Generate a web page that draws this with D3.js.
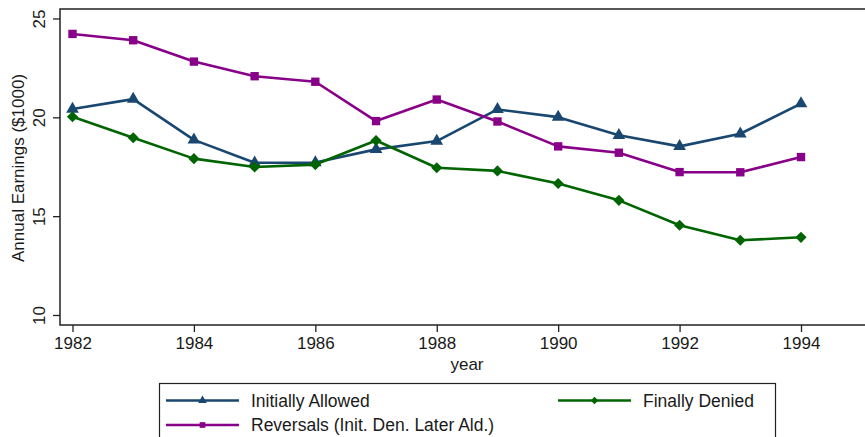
<!DOCTYPE html>
<html>
<head>
<meta charset="utf-8">
<script src="https://cdn.jsdelivr.net/npm/d3@7"></script>
<style>
  html, body { margin: 0; padding: 0; background: #fff; }
  svg { display: block; }
  text { font-family: "Liberation Sans", Arial, Helvetica, sans-serif; fill: #1a1a1a; }
</style>
</head>
<body>
<svg id="chart" width="865" height="437"></svg>
<script>
// Annual earnings by claim outcome, 1982–1994 (thousands of dollars)
const years = [1982, 1983, 1984, 1985, 1986, 1987, 1988, 1989, 1990, 1991, 1992, 1993, 1994];
const initiallyAllowed = [20.42, 20.92, 18.86, 17.70, 17.71, 18.38, 18.80, 20.40, 20.01, 19.09, 18.53, 19.17, 20.69];
const finallyDenied    = [20.03, 18.97, 17.91, 17.49, 17.61, 18.83, 17.45, 17.29, 16.65, 15.80, 14.54, 13.78, 13.93];
const reversals        = [24.22, 23.90, 22.82, 22.08, 21.80, 19.81, 20.90, 19.79, 18.53, 18.21, 17.23, 17.22, 17.99];
const yTicks = [10, 15, 20, 25];
const xTicks = [1982, 1984, 1986, 1988, 1990, 1992, 1994];

// Diamond markers are squares turned 45 degrees
const series = [
  { name: "Initially Allowed", values: initiallyAllowed, color: "#1a476f", marker: d3.symbolTriangle, size: 70, legendSize: 32, rot: 0 },
  { name: "Finally Denied", values: finallyDenied, color: "#006400", marker: d3.symbolSquare, size: 62, legendSize: 28, rot: 45 },
  { name: "Reversals (Init. Den. Later Ald.)", values: reversals, color: "#880088", marker: d3.symbolSquare, size: 70, legendSize: 32, rot: 0 }
];

const svg = d3.select("#chart");
const plot = { left: 60, top: 9, right: 870, bottom: 325 };

const x = d3.scaleLinear().domain([1982, 1994]).range([72.5, 801]);
const y = d3.scaleLinear().domain([10, 25]).range([315, 18.5]);

const axisColor = "#222";

// Y axis with rotated tick labels
const yAxis = svg.append("g")
  .attr("transform", `translate(${plot.left},0)`)
  .call(d3.axisLeft(y).tickValues(yTicks).tickSize(7).tickPadding(0).tickFormat(d3.format("d")));
yAxis.select(".domain").remove();
yAxis.selectAll(".tick line").attr("stroke", axisColor).attr("stroke-width", 1.3);
yAxis.selectAll(".tick text")
  .attr("font-size", 17)
  .attr("text-anchor", "middle")
  .attr("x", null).attr("dy", null)
  .attr("transform", "translate(-21,0) rotate(-90)")
  .attr("dominant-baseline", "central");

// X axis
const xAxis = svg.append("g")
  .attr("transform", `translate(0,${plot.bottom})`)
  .call(d3.axisBottom(x).tickValues(xTicks).tickSize(7).tickPadding(5).tickFormat(d3.format("d")));
xAxis.select(".domain").remove();
xAxis.selectAll(".tick line").attr("stroke", axisColor).attr("stroke-width", 1.3);
xAxis.selectAll(".tick text").attr("font-size", 17);

// Plot frame: left, top and bottom edges
svg.append("path")
  .attr("d", `M${plot.right},${plot.top}H${plot.left}V${plot.bottom}H${plot.right}`)
  .attr("fill", "none")
  .attr("stroke", axisColor)
  .attr("stroke-width", 1.5);

// Axis titles
svg.append("text")
  .attr("x", 467).attr("y", 370)
  .attr("text-anchor", "middle")
  .attr("font-size", 17)
  .text("year");

svg.append("text")
  .attr("transform", "translate(18,168) rotate(-90)")
  .attr("text-anchor", "middle")
  .attr("dominant-baseline", "central")
  .attr("font-size", 17)
  .text("Annual Earnings ($1000)");

// Series lines and markers
const line = d3.line().x((d, i) => x(years[i])).y(d => y(d));
const drawOrder = [series[0], series[2], series[1]];
drawOrder.forEach(s => {
  svg.append("path")
    .datum(s.values)
    .attr("d", line)
    .attr("fill", "none")
    .attr("stroke", s.color)
    .attr("stroke-width", 2.6)
    .attr("stroke-linejoin", "round");
  svg.append("g").selectAll("path")
    .data(s.values)
    .join("path")
    .attr("d", d3.symbol(s.marker, s.size))
    .attr("transform", (d, i) => `translate(${x(years[i])},${y(d)}) rotate(${s.rot})`)
    .attr("fill", s.color);
});

// Legend
const legend = svg.append("g");
legend.append("rect")
  .attr("x", 159.5).attr("y", 383.5)
  .attr("width", 616).attr("height", 80)
  .attr("fill", "#fff")
  .attr("stroke", axisColor)
  .attr("stroke-width", 1.2);

const legendItems = [
  { s: series[0], x0: 166, tx: 251, cy: 400.5 },
  { s: series[1], x0: 558, tx: 643, cy: 400.5 },
  { s: series[2], x0: 166, tx: 251, cy: 425 }
];
legendItems.forEach(item => {
  legend.append("line")
    .attr("x1", item.x0).attr("x2", item.x0 + 73)
    .attr("y1", item.cy).attr("y2", item.cy)
    .attr("stroke", item.s.color)
    .attr("stroke-width", 2.4);
  legend.append("path")
    .attr("d", d3.symbol(item.s.marker, item.s.legendSize))
    .attr("transform", `translate(${item.x0 + 36.5},${item.cy}) rotate(${item.s.rot})`)
    .attr("fill", item.s.color);
  legend.append("text")
    .attr("x", item.tx).attr("y", item.cy)
    .attr("dominant-baseline", "central")
    .attr("font-size", 17.5)
    .text(item.s.name);
});
</script>
</body>
</html>
